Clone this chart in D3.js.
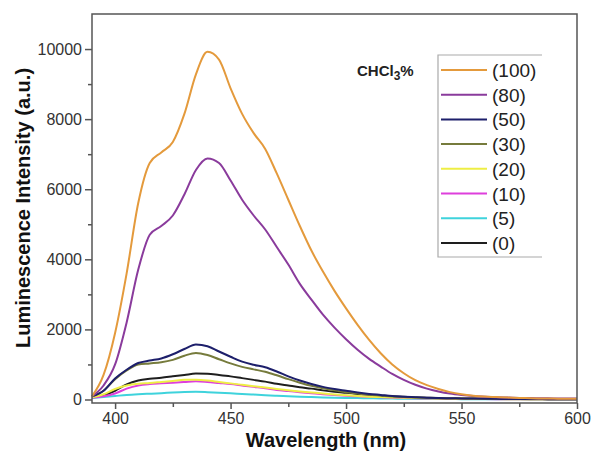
<html>
<head>
<meta charset="utf-8">
<script src="https://cdn.jsdelivr.net/npm/d3@7"></script>
<style>
  body { margin: 0; background: #fff; }
  text { font-family: "Liberation Sans", Arial, sans-serif; }
</style>
</head>
<body>
<script>
// wavelength grid (nm) and intensities
var wl = [390,395,400,405,410,415,420,425,430,435,440,445,450,455,460,465,470,475,480,485,490,
          495,500,505,510,515,520,525,530,535,540,545,550,555,560,565,570,575,580,585,590,595,600];

var s100 = [90,700,1900,3600,5600,6750,7050,7350,8150,9280,9920,9700,8880,8150,7600,7150,6450,5700,4950,4250,3650,
            3100,2600,2130,1700,1320,1000,750,550,410,300,210,150,110,85,70,55,45,35,30,25,20,20];
var s80 = [90,400,1000,2200,3700,4700,4950,5250,5850,6550,6880,6750,6250,5700,5250,4850,4350,3850,3300,2850,2420,
           2050,1720,1420,1160,940,730,560,420,310,230,170,130,100,80,65,55,45,40,35,30,25,25];
var s50 = [90,250,600,850,1040,1110,1170,1290,1440,1570,1520,1370,1220,1080,990,920,800,660,540,440,360,
           300,250,200,160,130,100,80,65,50,40,35,30,25,20,18,15,14,12,11,10,10,10];
var s30 = [90,250,580,830,1000,1030,1060,1130,1250,1330,1270,1150,1030,930,860,790,690,580,480,390,320,
           260,210,170,135,110,85,70,55,45,35,30,25,20,18,15,13,12,10,10,9,8,8];
var s20 = [60,150,300,400,450,470,500,530,560,560,540,500,460,420,380,340,300,265,230,200,170,
           145,120,100,80,70,60,50,40,35,30,25,20,18,15,12,10,9,8,7,6,5,5];
var s10 = [50,90,170,310,400,440,460,480,500,520,500,470,440,400,360,320,270,240,210,180,150,
           125,105,90,75,62,50,42,35,30,25,20,17,15,12,10,9,8,7,6,5,5,5];
var s5 = [40,70,100,130,150,165,180,200,215,220,210,195,175,160,140,120,105,90,78,70,60,
          52,45,40,35,30,26,22,19,16,14,12,10,9,8,7,6,5,5,4,4,4,4];
var s0 = [60,120,250,430,540,590,620,660,700,740,735,700,660,610,560,510,450,400,350,310,260,
          220,190,160,130,110,90,75,60,50,42,35,30,25,20,18,15,13,12,11,10,10,10];

var labels = ['(100)','(80)','(50)','(30)','(20)','(10)','(5)','(0)'];
var colors = ['#e49a3c','#8a3b9c','#1d1f6b','#767b3c','#eeee44','#de3fdc','#3fd3dc','#1e1e1e'];
var series = [s100, s80, s50, s30, s20, s10, s5, s0];

var xTicks = [400,450,500,550,600];
var yTicks = [0,2000,4000,6000,8000,10000];

var W = 591, H = 460;
var L = 92, R = 577, T = 14, B = 403;

var svg = d3.select('body').append('svg')
  .attr('width', W).attr('height', H);

var x = d3.scaleLinear().domain([390, 600]).range([L, R]);
var y = d3.scaleLinear().domain([-100, 11000]).range([B, T]);

// curves, (0) drawn first so the big ones sit on top
var line = d3.line()
  .x(function(d, i) { return x(wl[i]); })
  .y(function(d) { return y(d); })
  .curve(d3.curveMonotoneX);

var order = [7,6,5,4,3,2,1,0];
svg.selectAll('path.curve')
  .data(order).enter()
  .append('path')
  .attr('class', 'curve')
  .attr('d', function(k) { return line(series[k]); })
  .attr('fill', 'none')
  .attr('stroke', function(k) { return colors[k]; })
  .attr('stroke-width', 2);

// frame
svg.append('rect')
  .attr('x', L).attr('y', T)
  .attr('width', R - L).attr('height', B - T)
  .attr('fill', 'none').attr('stroke', '#555').attr('stroke-width', 1.5);

// x axis
var xAxis = d3.axisBottom(x).tickValues(xTicks).tickSize(6).tickPadding(4).tickFormat(d3.format('d'));
var gx = svg.append('g').attr('transform', 'translate(0,' + B + ')').call(xAxis);
gx.select('.domain').remove();
var xMinor = d3.axisBottom(x).tickValues([425,475,525,575]).tickSize(4).tickFormat('');
var gxm = svg.append('g').attr('transform', 'translate(0,' + B + ')').call(xMinor);
gxm.select('.domain').remove();

// y axis
var yAxis = d3.axisLeft(y).tickValues(yTicks).tickSize(7).tickPadding(3).tickFormat(d3.format('d'));
var gy = svg.append('g').attr('transform', 'translate(' + L + ',0)').call(yAxis);
gy.select('.domain').remove();
var yMinor = d3.axisLeft(y).tickValues([1000,3000,5000,7000,9000]).tickSize(4).tickFormat('');
var gym = svg.append('g').attr('transform', 'translate(' + L + ',0)').call(yMinor);
gym.select('.domain').remove();

svg.selectAll('.tick line').attr('stroke', '#555').attr('stroke-width', 1.5);
svg.selectAll('.tick text')
  .attr('font-size', 16)
  .attr('fill', '#333')
  .style('font-family', '"Liberation Sans", Arial, sans-serif');

// axis titles
svg.append('text')
  .attr('x', 326).attr('y', 447)
  .attr('text-anchor', 'middle')
  .attr('font-size', 20).attr('font-weight', 'bold').attr('fill', '#111')
  .text('Wavelength (nm)');

svg.append('text')
  .attr('transform', 'translate(30,208) rotate(-90)')
  .attr('text-anchor', 'middle')
  .attr('font-size', 20).attr('font-weight', 'bold').attr('fill', '#111')
  .text('Luminescence Intensity (a.u.)');

// legend
var lg = svg.append('g');
lg.append('path')
  .attr('d', 'M542,55 H438 V257 H542')
  .attr('fill', 'none').attr('stroke', '#aaa').attr('stroke-width', 1.2);

var rows = lg.selectAll('g.row')
  .data(labels).enter()
  .append('g')
  .attr('class', 'row')
  .attr('transform', function(d, i) { return 'translate(0,' + (70 + i * 24.7) + ')'; });

rows.append('line')
  .attr('x1', 441).attr('x2', 487)
  .attr('stroke', function(d, i) { return colors[i]; })
  .attr('stroke-width', 2);

rows.append('text')
  .attr('x', 492).attr('y', 7)
  .attr('font-size', 19).attr('fill', '#222')
  .text(function(d) { return d; });

var ttl = lg.append('text')
  .attr('x', 357).attr('y', 76)
  .attr('font-size', 15).attr('font-weight', 'bold').attr('fill', '#222');
ttl.append('tspan').text('CHCl');
ttl.append('tspan').attr('dy', 4).attr('font-size', 12).text('3');
ttl.append('tspan').attr('dy', -4).text('%');
</script>
</body>
</html>
